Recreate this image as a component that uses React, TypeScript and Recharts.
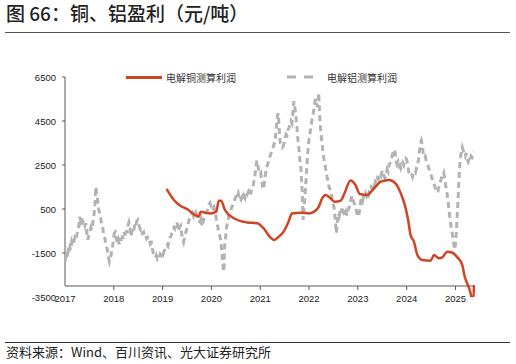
import { LineChart, Line, XAxis, YAxis, ReferenceLine } from "recharts";

// 电解铝测算利润: [year fraction, 元/吨]
const alSeries: [number, number][] = [
  [2017.0, -1900], [2017.02, -1650], [2017.04, -1750], [2017.06, -1450], [2017.08, -1550],
  [2017.1, -1250], [2017.12, -1350], [2017.14, -950], [2017.17, -1100], [2017.2, -800],
  [2017.23, -900], [2017.26, -450], [2017.28, -300], [2017.3, 150], [2017.32, -50],
  [2017.34, 100], [2017.36, -100], [2017.39, 0], [2017.41, -250], [2017.43, -150],
  [2017.45, -700], [2017.47, -900], [2017.49, -650], [2017.51, -500], [2017.53, -350],
  [2017.55, -450], [2017.57, -100], [2017.59, 150], [2017.61, 600], [2017.63, 1500],
  [2017.65, 1200], [2017.67, 900], [2017.69, 500], [2017.71, 300], [2017.73, 100],
  [2017.75, -200], [2017.77, -300], [2017.79, -650], [2017.81, -750], [2017.83, -1000],
  [2017.85, -1200], [2017.87, -1400], [2017.89, -1700], [2017.91, -1900], [2017.93, -1750],
  [2017.95, -1500], [2017.97, -1300], [2017.99, -900], [2018.01, -600], [2018.03, -550],
  [2018.05, -850], [2018.07, -1050], [2018.09, -900], [2018.11, -1100], [2018.13, -800],
  [2018.15, -950], [2018.17, -700], [2018.19, -850], [2018.21, -550], [2018.23, -700],
  [2018.25, -450], [2018.27, -600], [2018.29, -250], [2018.31, -100], [2018.33, -300],
  [2018.35, -750], [2018.37, -550], [2018.39, -400], [2018.41, -500], [2018.43, -200],
  [2018.45, -300], [2018.47, -50], [2018.49, 0], [2018.51, -200], [2018.53, -350],
  [2018.55, -450], [2018.57, -400], [2018.59, -600], [2018.61, -550], [2018.63, -750],
  [2018.65, -700], [2018.67, -850], [2018.69, -800], [2018.71, -950], [2018.73, -900],
  [2018.75, -1100], [2018.77, -1050], [2018.79, -1300], [2018.81, -1500], [2018.83, -1600],
  [2018.85, -1700], [2018.87, -1600], [2018.89, -1750], [2018.91, -1650], [2018.93, -1700],
  [2018.95, -1550], [2018.97, -1600], [2018.99, -1450], [2019.01, -1550], [2019.03, -1400],
  [2019.05, -1350], [2019.07, -1250], [2019.09, -1150], [2019.11, -1200], [2019.13, -950],
  [2019.15, -800], [2019.17, -750], [2019.19, -600], [2019.21, -500], [2019.23, -350],
  [2019.25, -400], [2019.27, -200], [2019.29, -100], [2019.31, -250], [2019.33, -500],
  [2019.35, -300], [2019.37, -250], [2019.39, -600], [2019.41, -850], [2019.43, -1000],
  [2019.45, -800], [2019.47, -600], [2019.49, -450], [2019.51, -300], [2019.53, -100],
  [2019.55, 50], [2019.57, 150], [2019.59, 250], [2019.61, 320], [2019.63, 200],
  [2019.65, 380], [2019.67, 400], [2019.69, 300], [2019.71, 200], [2019.73, 100],
  [2019.75, -50], [2019.77, -100], [2019.79, 50], [2019.81, -150], [2019.83, -100],
  [2019.85, 100], [2019.87, 150], [2019.89, 300], [2019.91, 350], [2019.93, 550],
  [2019.95, 700], [2019.97, 780], [2019.99, 650], [2020.01, 700], [2020.03, 550],
  [2020.05, 600], [2020.07, 400], [2020.09, 200], [2020.11, -100], [2020.13, -300],
  [2020.15, -600], [2020.17, -700], [2020.19, -900], [2020.21, -1400], [2020.23, -1900],
  [2020.25, -2350], [2020.26, -2100], [2020.27, -1200], [2020.29, -800], [2020.31, -300],
  [2020.33, -150], [2020.35, 100], [2020.37, 300], [2020.39, 350], [2020.41, 550],
  [2020.43, 650], [2020.45, 800], [2020.47, 900], [2020.49, 1000], [2020.51, 1150],
  [2020.53, 1050], [2020.55, 1200], [2020.57, 1000], [2020.59, 1100], [2020.61, 950],
  [2020.63, 1050], [2020.65, 900], [2020.67, 1100], [2020.69, 1000], [2020.71, 1200],
  [2020.73, 1150], [2020.75, 1250], [2020.77, 1100], [2020.79, 1300], [2020.81, 1250],
  [2020.83, 1400], [2020.85, 1500], [2020.87, 1750], [2020.89, 2000], [2020.91, 2400],
  [2020.93, 2700], [2020.95, 2500], [2020.97, 2200], [2020.99, 2100], [2021.01, 2150],
  [2021.03, 1800], [2021.05, 1500], [2021.07, 1400], [2021.09, 1750], [2021.11, 2100],
  [2021.13, 2400], [2021.15, 2500], [2021.17, 2700], [2021.19, 2850], [2021.21, 2950],
  [2021.23, 3100], [2021.25, 3200], [2021.27, 3350], [2021.29, 3500], [2021.31, 3700],
  [2021.33, 4200], [2021.35, 4700], [2021.37, 4850], [2021.39, 4100], [2021.41, 3500],
  [2021.43, 3400], [2021.45, 3300], [2021.47, 3350], [2021.49, 3500], [2021.51, 3750],
  [2021.53, 3900], [2021.55, 3850], [2021.57, 4100], [2021.59, 4200], [2021.61, 4350],
  [2021.63, 4500], [2021.65, 4400], [2021.67, 4900], [2021.69, 5400], [2021.71, 5100],
  [2021.73, 4700], [2021.75, 4300], [2021.77, 3700], [2021.79, 3300], [2021.81, 2800],
  [2021.83, 2400], [2021.85, 1700], [2021.86, 1300], [2021.87, 600], [2021.88, 0],
  [2021.89, 300], [2021.91, 900], [2021.93, 1500], [2021.95, 2300], [2021.97, 2900],
  [2021.99, 3500], [2022.01, 3800], [2022.03, 4100], [2022.05, 4400], [2022.07, 4700],
  [2022.09, 4900], [2022.11, 5200], [2022.13, 5500], [2022.15, 5300], [2022.17, 5150],
  [2022.19, 5500], [2022.2, 5780], [2022.21, 5100], [2022.23, 4300], [2022.25, 3800],
  [2022.27, 3400], [2022.29, 3000], [2022.31, 2700], [2022.33, 2500], [2022.35, 2200],
  [2022.37, 1950], [2022.39, 1750], [2022.41, 1500], [2022.43, 1400], [2022.45, 1300],
  [2022.47, 1000], [2022.49, 800], [2022.51, 600], [2022.53, 200], [2022.55, -400],
  [2022.56, -600], [2022.58, -100], [2022.6, 300], [2022.62, 200], [2022.64, 500],
  [2022.66, 350], [2022.68, 600], [2022.7, 400], [2022.72, 250], [2022.74, 150],
  [2022.76, 350], [2022.78, 200], [2022.8, 450], [2022.82, 550], [2022.84, 750],
  [2022.86, 950], [2022.88, 1100], [2022.9, 900], [2022.92, 800], [2022.94, 650],
  [2022.96, 500], [2022.98, 300], [2023.0, 150], [2023.02, 200], [2023.04, 500],
  [2023.06, 850], [2023.08, 1050], [2023.1, 900], [2023.12, 1100], [2023.14, 1000],
  [2023.16, 1200], [2023.18, 1100], [2023.2, 1250], [2023.22, 1150], [2023.24, 1350],
  [2023.26, 1300], [2023.28, 1500], [2023.3, 1450], [2023.32, 1650], [2023.34, 1550],
  [2023.36, 1750], [2023.38, 1700], [2023.4, 1900], [2023.42, 1850], [2023.44, 2050],
  [2023.46, 2150], [2023.48, 2050], [2023.5, 2250], [2023.52, 2150], [2023.54, 2000],
  [2023.56, 1900], [2023.58, 2100], [2023.6, 2300], [2023.62, 2200], [2023.64, 2500],
  [2023.66, 2600], [2023.68, 2750], [2023.7, 2900], [2023.72, 3050], [2023.74, 3200],
  [2023.76, 3100], [2023.78, 2700], [2023.8, 2550], [2023.82, 2650], [2023.84, 2450],
  [2023.86, 2500], [2023.88, 2350], [2023.9, 2450], [2023.92, 2600], [2023.94, 2500],
  [2023.96, 2700], [2023.98, 2800], [2024.0, 2750], [2024.02, 2550], [2024.04, 2200],
  [2024.06, 2100], [2024.08, 2000], [2024.1, 2050], [2024.12, 1950], [2024.14, 2100],
  [2024.16, 2200], [2024.18, 2150], [2024.2, 2350], [2024.22, 2450], [2024.24, 2700],
  [2024.26, 3100], [2024.28, 3450], [2024.3, 3600], [2024.32, 3400], [2024.34, 3000],
  [2024.36, 2850], [2024.38, 2900], [2024.4, 2700], [2024.42, 2600], [2024.44, 2450],
  [2024.46, 2300], [2024.48, 2150], [2024.5, 2050], [2024.52, 1900], [2024.54, 1750],
  [2024.56, 1650], [2024.58, 1500], [2024.6, 1350], [2024.62, 1250], [2024.64, 1300],
  [2024.66, 1500], [2024.68, 1650], [2024.7, 1800], [2024.72, 1950], [2024.74, 2050],
  [2024.76, 2150], [2024.78, 1900], [2024.8, 1550], [2024.82, 1350], [2024.84, 1000],
  [2024.86, 600], [2024.88, 200], [2024.9, -150], [2024.92, -450], [2024.94, -700],
  [2024.96, -1000], [2024.98, -1350], [2025.0, -1100], [2025.02, -450], [2025.04, 400],
  [2025.06, 1300], [2025.08, 2200], [2025.1, 2800], [2025.12, 3100], [2025.14, 3300],
  [2025.16, 3150], [2025.18, 3000], [2025.2, 2900], [2025.22, 3050], [2025.24, 2750],
  [2025.26, 2650], [2025.28, 2800], [2025.3, 2700], [2025.32, 2900], [2025.34, 2850],
  [2025.36, 3000], [2025.37, 3100],
];

// 电解铜测算利润
const cuSeries: [number, number][] = [
  [2019.08, 1410], [2019.23, 910], [2019.37, 640], [2019.5, 500], [2019.64, 260],
  [2019.74, 150], [2019.78, 380], [2019.88, 330], [2019.98, 300], [2020.1, 380],
  [2020.15, 880], [2020.2, 880], [2020.27, 490], [2020.36, 230], [2020.46, 80],
  [2020.6, -50], [2020.73, -110], [2020.94, -150], [2021.07, -380], [2021.21, -800],
  [2021.28, -910], [2021.38, -760], [2021.48, -530], [2021.58, -80], [2021.65, 300],
  [2021.83, 330], [2022.0, 300], [2022.13, 420], [2022.2, 610], [2022.27, 990],
  [2022.34, 1140], [2022.44, 990], [2022.52, 830], [2022.65, 880], [2022.72, 1180],
  [2022.85, 1790], [2022.95, 1590], [2023.04, 1180], [2023.19, 1140], [2023.33, 1440],
  [2023.47, 1740], [2023.64, 1820], [2023.77, 1670], [2023.88, 1210], [2023.98, 530],
  [2024.03, 0], [2024.08, -680], [2024.15, -990], [2024.22, -1590], [2024.32, -1820],
  [2024.49, -1850], [2024.56, -1590], [2024.66, -1740], [2024.73, -1700], [2024.83, -1440],
  [2024.94, -1490], [2025.04, -1700], [2025.14, -2050], [2025.19, -2580], [2025.24, -2880],
  [2025.31, -3330], [2025.33, -3530], [2025.37, -3530], [2025.38, -2960],
];

const yearTicks = [2017, 2018, 2019, 2020, 2021, 2022, 2023, 2024, 2025];
const valueTicks = [-3500, -1500, 500, 2500, 4500, 6500];

const alData = alSeries.map(([x, v]) => ({ x, v }));
const cuData = cuSeries.map(([x, v]) => ({ x, v }));

const RED = "#cf4524";
const GRAY = "#b3b3b3";
const AXIS = "#595959";
const numFont = "'Liberation Sans', Arial, sans-serif";
const cjkFont = "'Noto Sans CJK SC', 'Noto Sans', sans-serif";

const XTick = (props: any) => {
  const { x, y, payload } = props;
  return (
    <g>
      {payload.value !== 2017 && (
        <line x1={x} x2={x} y1={y - 11} y2={y - 7} stroke={AXIS} strokeWidth={1} />
      )}
      <text x={x} y={y + 5} textAnchor="middle" fontSize={9.5} fontFamily={numFont} fill="#222">
        {payload.value}
      </text>
    </g>
  );
};

const YTick = (props: any) => {
  const { x, y, payload } = props;
  return (
    <g>
      {payload.value !== -3500 && (
        <line x1={x - 3} x2={x} y1={y} y2={y} stroke={AXIS} strokeWidth={1} />
      )}
      <text x={x - 9} y={y + 3.5} textAnchor="end" fontSize={9.5} fontFamily={numFont} fill="#222">
        {payload.value}
      </text>
    </g>
  );
};

export default function App() {
  return (
    <div style={{ position: "absolute", left: 0, top: 0, width: 516, height: 364, background: "#fff" }}>
      <div
        style={{
          position: "absolute",
          left: 6,
          top: 2,
          fontFamily: cjkFont,
          fontSize: 19,
          fontWeight: 500,
          color: "#222",
          lineHeight: "22px",
          whiteSpace: "nowrap",
        }}
      >
        图 66：铜、铝盈利（元/吨）
      </div>
      <div style={{ position: "absolute", left: 5, top: 32, width: 505, height: 1, background: "#555" }} />

      <div
        style={{
          position: "absolute",
          left: 126,
          top: 70,
          display: "flex",
          alignItems: "center",
          fontFamily: cjkFont,
          fontSize: 10,
          color: "#333",
          whiteSpace: "nowrap",
          height: 14,
        }}
      >
        <div style={{ width: 36, height: 3, background: RED, marginRight: 4 }} />
        <span>电解铜测算利润</span>
        <svg width={30} height={4} style={{ marginLeft: 51, marginRight: 10 }}>
          <line x1={0} x2={30} y1={2} y2={2} stroke={GRAY} strokeWidth={3} strokeDasharray="9 8" />
        </svg>
        <span>电解铝测算利润</span>
      </div>

      <LineChart
        width={516}
        height={364}
        margin={{ top: 77, right: 41, bottom: 47, left: 0 }}
        style={{ position: "absolute", left: 0, top: 0 }}
      >
        <XAxis
          dataKey="x"
          type="number"
          domain={[2017, 2025.4]}
          ticks={yearTicks}
          allowDataOverflow
          axisLine={false}
          tickLine={false}
          tickSize={0}
          tickMargin={0}
          height={20}
          tick={<XTick />}
        />
        <YAxis
          type="number"
          domain={[-3500, 6500]}
          ticks={valueTicks}
          allowDataOverflow
          axisLine={false}
          tickLine={false}
          tickSize={0}
          tickMargin={0}
          width={65}
          tick={<YTick />}
        />
        <ReferenceLine
          segment={[
            { x: 2017, y: -3000 },
            { x: 2017, y: 6500 },
          ]}
          stroke={AXIS}
          strokeWidth={1}
          ifOverflow="visible"
        />
        <ReferenceLine y={-3000} stroke={AXIS} strokeWidth={1} ifOverflow="visible" />
        <Line
          data={alData}
          dataKey="v"
          type="linear"
          stroke={GRAY}
          strokeWidth={3}
          strokeDasharray="6 4"
          dot={false}
          isAnimationActive={false}
        />
        <Line
          data={cuData}
          dataKey="v"
          type="monotone"
          stroke={RED}
          strokeWidth={2.5}
          dot={false}
          isAnimationActive={false}
        />
      </LineChart>

      <div style={{ position: "absolute", left: 5, top: 342, width: 505, height: 1, background: "#333" }} />
      <div
        style={{
          position: "absolute",
          left: 6,
          top: 344,
          fontFamily: cjkFont,
          fontSize: 13,
          color: "#222",
          lineHeight: "16px",
          whiteSpace: "nowrap",
        }}
      >
        资料来源：Wind、百川资讯、光大证券研究所
      </div>
    </div>
  );
}
